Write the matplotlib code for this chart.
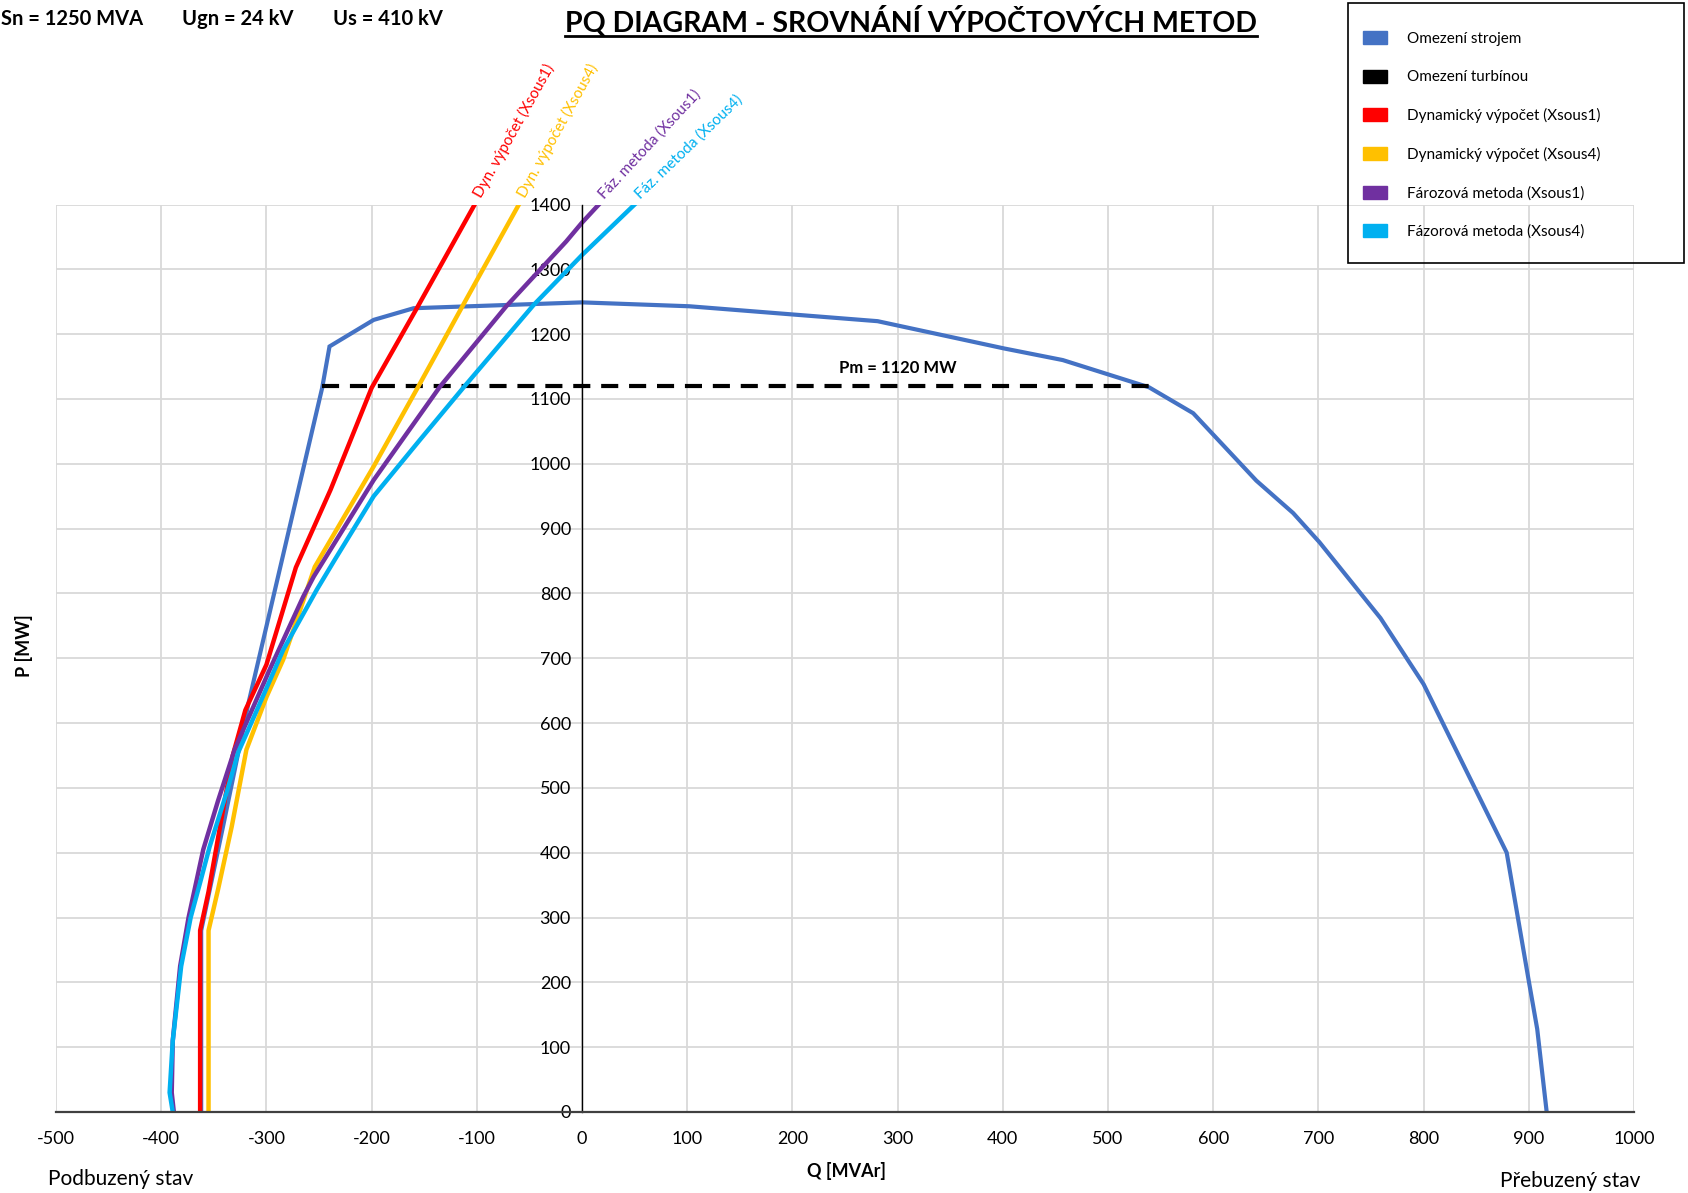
import numpy as np
import matplotlib.pyplot as plt
from matplotlib.patches import Patch, Rectangle
from matplotlib.lines import Line2D

plt.rcParams['font.family'] = ['Lato', 'DejaVu Sans']
plt.rcParams['axes.unicode_minus'] = False

# Omezení strojem (Q [MVAr], P [MW])
q_stroj = [-362, -362, -340, -317, -247, -240, -198, -160, 0, 102, 203, 281,
           401, 457, 539, 581, 641, 676, 701, 759, 800, 879, 900, 908, 917]
p_stroj = [0, 280, 450, 631, 1117, 1181, 1222, 1240, 1249, 1243, 1230, 1220,
           1178, 1160, 1118, 1078, 974, 924, 879, 762, 660, 400, 202, 128, 0]

# Omezení turbínou
pm = 1120
q_turb = [-247, 539]
p_turb = [pm, pm]

# Dynamický výpočet (Xsous1)
q_dyn1 = [-363, -363, -355, -343, -332, -320, -300, -272, -239, -200, -157, -102]
p_dyn1 = [0, 280, 340, 450, 550, 620, 690, 840, 960, 1117, 1240, 1400]

# Dynamický výpočet (Xsous4)
q_dyn4 = [-355, -355, -346, -333, -319, -300, -284, -254, -198, -156, -113, -60]
p_dyn4 = [0, 280, 343, 440, 559, 640, 698, 841, 996, 1118, 1245, 1400]

# Fázorová metoda (Xsous1)
q_faz1 = [-388, -390, -389, -382, -374, -360, -346, -330, -297, -265, -255,
          -198, -135, -72, -15, 0, 16]
p_faz1 = [0, 30, 110, 225, 300, 405, 480, 560, 682, 795, 826,
          975, 1119, 1243, 1343, 1372, 1400]

# Fázorová metoda (Xsous4)
q_faz4 = [-389, -392, -389, -381, -372, -362, -354, -338, -327, -309, -284,
          -252, -235, -198, -154, -113, -46, 0, 50]
p_faz4 = [0, 30, 110, 225, 300, 360, 409, 492, 554, 620, 713,
          806, 852, 950, 1037, 1117, 1245, 1322, 1400]

c_stroj = '#4472C4'
c_dyn1 = '#FF0000'
c_dyn4 = '#FFC000'
c_faz1 = '#7030A0'
c_faz4 = '#00B0F0'

W, H = 1688, 1193
fig = plt.figure(figsize=(W / 100, H / 100), dpi=100)
ax = fig.add_axes([56 / W, 1 - 1112 / H, (1634 - 56) / W, (1112 - 204.5) / H])

ax.set_xlim(-500, 1000)
ax.set_ylim(0, 1400)
ax.set_xticks(np.arange(-500, 1001, 100))
ax.set_yticks(np.arange(0, 1401, 100))
ax.grid(color='#d9d9d9', lw=1.3)
ax.set_axisbelow(True)

ax.spines['top'].set_visible(False)
ax.spines['right'].set_visible(False)
ax.spines['left'].set_position(('data', 0))
ax.spines['left'].set_color('black')
ax.spines['left'].set_linewidth(1.0)
ax.spines['bottom'].set_color('#404040')
ax.spines['bottom'].set_linewidth(1.6)
ax.tick_params(length=0, labelsize=13, colors='#000000')
ax.tick_params(axis='y', pad=8)
ax.tick_params(axis='x', pad=14)

ax.plot(q_stroj, p_stroj, color=c_stroj, lw=3.0, solid_joinstyle='miter')
ax.plot(q_turb, p_turb, color='black', lw=3.0, dashes=(4.1, 2.6))
ax.plot(q_dyn1, p_dyn1, color=c_dyn1, lw=3.2)
ax.plot(q_dyn4, p_dyn4, color=c_dyn4, lw=3.2)
ax.plot(q_faz1, p_faz1, color=c_faz1, lw=3.2)
ax.plot(q_faz4, p_faz4, color=c_faz4, lw=3.2)

ax.text(300, 1148, f'Pm = {pm} MW', ha='center', va='center',
        fontsize=12, fontweight='bold')

# popisky na koncích křivek, natočené podle posledního úseku
for qs, ps, txt, col in [(q_dyn1, p_dyn1, 'Dyn. výpočet (Xsous1)', c_dyn1),
                         (q_dyn4, p_dyn4, 'Dyn. výpočet (Xsous4)', c_dyn4),
                         (q_faz1, p_faz1, 'Fáz. metoda (Xsous1)', c_faz1),
                         (q_faz4, p_faz4, 'Fáz. metoda (Xsous4)', c_faz4)]:
    a = ax.transData.transform((qs[-2], ps[-2]))
    b = ax.transData.transform((qs[-1], ps[-1]))
    ang = np.degrees(np.arctan2(b[1] - a[1], b[0] - a[0]))
    ax.annotate(txt, xy=(qs[-1], ps[-1]), xytext=(2, 6),
                textcoords='offset points', rotation=ang,
                rotation_mode='anchor', ha='left', va='center',
                fontsize=11, color=col, annotation_clip=False)

# texty mimo graf
fig.text(1 / W, 1 - 19 / H, 'Sn = 1250 MVA', ha='left', va='center',
         fontsize=14.5, fontweight='bold')
fig.text(182 / W, 1 - 19 / H, 'Ugn = 24 kV', ha='left', va='center',
         fontsize=14.5, fontweight='bold')
fig.text(333 / W, 1 - 19 / H, 'Us = 410 kV', ha='left', va='center',
         fontsize=14.5, fontweight='bold')

title = fig.text(911 / W, 1 - 21 / H, 'PQ DIAGRAM - SROVNÁNÍ VÝPOČTOVÝCH METOD',
                 ha='center', va='center', fontsize=20.5, fontweight='bold')

fig.text(847 / W, 1 - 1171 / H, 'Q [MVAr]', ha='center', va='center',
         fontsize=13, fontweight='bold')
fig.text(24 / W, 1 - 646 / H, 'P [MW]', ha='center', va='center',
         rotation=90, fontsize=13, fontweight='bold')
fig.text(48 / W, 1 - 1179 / H, 'Podbuzený stav', ha='left', va='center',
         fontsize=15)
fig.text(1640 / W, 1 - 1181 / H, 'Přebuzený stav', ha='right', va='center',
         fontsize=15)

# legenda
handles = [Patch(color=c_stroj), Patch(color='black'), Patch(color=c_dyn1),
           Patch(color=c_dyn4), Patch(color=c_faz1), Patch(color=c_faz4)]
labels = ['Omezení strojem', 'Omezení turbínou', 'Dynamický výpočet (Xsous1)',
          'Dynamický výpočet (Xsous4)', 'Fározová metoda (Xsous1)',
          'Fázorová metoda (Xsous4)']
fig.legend(handles, labels, loc='upper left',
           bbox_to_anchor=(1363 / W, 1 - 31 / H), frameon=False,
           fontsize=11, handlelength=1.6, handleheight=0.95,
           handletextpad=1.3, labelspacing=1.55, borderpad=0, borderaxespad=0)
fig.add_artist(Rectangle((1348 / W, 1 - 263 / H), 336 / W, 260 / H,
                         transform=fig.transFigure, fill=False,
                         edgecolor='black', lw=1.2))

# podtržení nadpisu
fig.canvas.draw()
bb = title.get_window_extent()
y_line = (bb.y0 + 1) / H
fig.add_artist(Line2D([bb.x0 / W, bb.x1 / W], [y_line, y_line],
                      transform=fig.transFigure, color='black', lw=2.0))

fig.savefig('out.png', dpi=100)
